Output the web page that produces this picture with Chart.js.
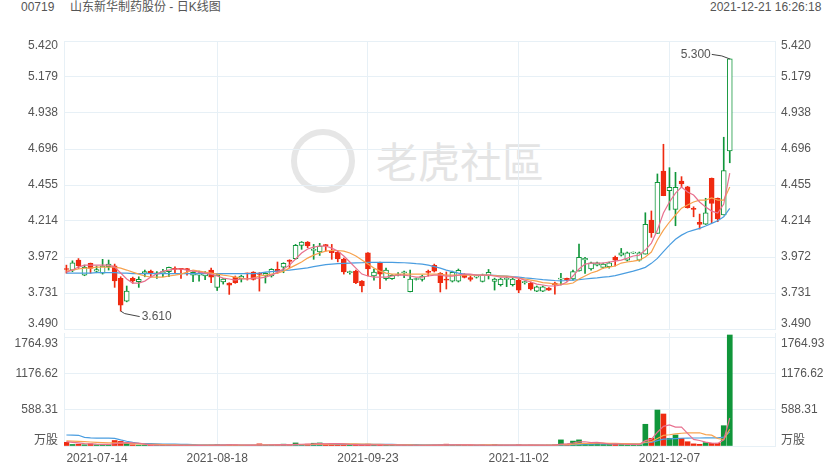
<!DOCTYPE html>
<html><head><meta charset="utf-8">
<script src="https://cdn.jsdelivr.net/npm/chart.js@4.4.1/dist/chart.umd.min.js"></script>
<style>
html,body{margin:0;padding:0;background:#fff;}
#wrap{position:relative;width:840px;height:470px;overflow:hidden;font-family:"Liberation Sans","Noto Sans CJK SC",Arial,sans-serif;}
.hdr{position:absolute;top:0;font-size:12px;color:#555;line-height:15px;white-space:nowrap;}
#wmlogo{position:absolute;left:291px;top:129px;width:52px;height:52px;border:6px solid #e6e6e6;border-radius:50%;}
#wmtext{position:absolute;left:376px;top:132px;font-size:42px;line-height:56px;color:#e4e4e4;font-family:"Noto Sans CJK SC",sans-serif;white-space:nowrap;}
.cv{position:absolute;left:0;}
</style></head><body>
<div id="wrap">
  <div class="hdr" style="left:21px">00719</div>
  <div class="hdr" style="left:70px">山东新华制药股份 - 日K线图</div>
  <div class="hdr" style="left:710px">2021-12-21 16:26:18</div>
  <div id="wmlogo"></div><div id="wmtext">老虎社區</div>
  <canvas id="pc" class="cv" style="top:0" width="840" height="350"></canvas>
  <canvas id="vc" class="cv" style="top:310px" width="840" height="160"></canvas>
</div>
<script>
// ---------- data ----------
const xTickIdx = [0, 25, 50, 75, 100];
const xTickLabels = ['2021-07-14', '2021-08-18', '2021-09-23', '2021-11-02', '2021-12-07'];
const priceTicks = [3.490, 3.731, 3.972, 4.214, 4.455, 4.696, 4.938, 5.179, 5.420];
const volTicks = [0, 588.31, 1176.62, 1764.93];
const volTickLabels = ['万股', '588.31', '1176.62', '1764.93'];

const open = [3.892,3.885,3.952,3.851,3.930,3.878,3.864,3.907,3.914,3.829,
3.677,3.829,3.808,3.863,3.878,3.858,3.863,3.874,3.893,3.893,
3.892,3.851,3.851,3.845,3.885,3.769,3.805,3.798,3.838,3.825,
3.863,3.872,3.865,3.845,3.845,3.890,3.905,3.952,3.961,4.050,
4.073,4.017,4.006,4.051,4.012,4.006,3.959,3.868,3.878,3.811,
4.001,3.845,3.932,3.828,3.827,3.850,3.867,3.741,3.822,3.823,
3.874,3.916,3.863,3.820,3.810,3.811,3.856,3.834,3.838,3.809,
3.847,3.809,3.787,3.823,3.787,3.816,3.801,3.798,3.743,3.743,
3.765,3.798,3.824,3.829,3.825,3.880,3.953,3.892,3.918,3.903,
3.907,3.970,3.985,3.952,3.999,3.952,3.992,4.220,4.131,4.549,
4.417,4.292,4.482,4.443,4.296,4.205,4.193,4.500,4.366,4.254,
4.683];
const close = [3.889,3.934,3.914,3.903,3.896,3.888,3.912,3.925,3.813,3.650,
3.744,3.813,3.823,3.874,3.863,3.867,3.874,3.903,3.890,3.890,
3.888,3.869,3.861,3.863,3.838,3.851,3.825,3.784,3.800,3.845,
3.860,3.823,3.855,3.863,3.890,3.878,3.930,3.943,4.050,4.073,
4.046,4.021,4.046,4.049,4.001,3.959,3.872,3.872,3.800,3.778,
3.892,3.872,3.858,3.885,3.850,3.854,3.871,3.825,3.826,3.845,
3.870,3.878,3.800,3.817,3.870,3.883,3.835,3.823,3.842,3.851,
3.869,3.825,3.825,3.826,3.825,3.751,3.804,3.758,3.772,3.772,
3.751,3.785,3.827,3.818,3.874,3.970,3.963,3.934,3.934,3.925,
3.934,3.952,4.001,4.001,4.002,4.001,4.191,4.135,4.473,4.383,
4.439,4.439,4.462,4.303,4.292,4.191,4.269,4.332,4.227,4.551,
5.300];
const high = [3.918,3.947,3.962,3.918,3.932,3.912,3.957,3.952,3.925,3.840,
3.778,3.838,3.840,3.885,3.885,3.874,3.890,3.905,3.907,3.896,
3.896,3.874,3.878,3.875,3.898,3.858,3.829,3.800,3.845,3.851,
3.865,3.874,3.868,3.868,3.894,3.939,3.934,3.954,4.057,4.076,
4.076,4.057,4.064,4.057,4.057,4.012,3.965,3.878,3.885,3.815,
4.002,3.892,3.939,3.898,3.855,3.868,3.878,3.885,3.831,3.851,
3.885,3.925,3.868,3.872,3.878,3.892,3.861,3.845,3.851,3.858,
3.889,3.831,3.831,3.840,3.831,3.825,3.811,3.805,3.778,3.778,
3.767,3.805,3.863,3.831,3.885,4.059,3.970,3.939,3.939,3.932,
3.939,3.979,4.030,4.006,4.006,4.006,4.269,4.281,4.529,4.728,
4.571,4.540,4.511,4.446,4.309,4.260,4.366,4.502,4.368,4.775,
5.300];
const low = [3.864,3.874,3.896,3.847,3.864,3.867,3.858,3.885,3.769,3.610,
3.672,3.796,3.769,3.840,3.840,3.829,3.840,3.840,3.867,3.829,
3.851,3.807,3.811,3.820,3.801,3.748,3.791,3.722,3.796,3.805,
3.818,3.818,3.744,3.798,3.838,3.863,3.867,3.900,3.957,4.024,
4.035,3.957,3.983,4.012,3.957,3.940,3.858,3.858,3.794,3.738,
3.845,3.818,3.761,3.818,3.822,3.845,3.834,3.738,3.818,3.811,
3.845,3.872,3.738,3.758,3.805,3.805,3.832,3.811,3.831,3.805,
3.825,3.751,3.778,3.774,3.778,3.733,3.791,3.751,3.740,3.740,
3.748,3.724,3.785,3.811,3.818,3.878,3.863,3.885,3.912,3.898,
3.898,3.912,3.979,3.945,3.996,3.945,3.992,4.104,4.131,4.383,
4.287,4.182,4.439,4.300,4.242,4.160,4.190,4.202,4.209,4.254,
4.604];
const ma5 = [3.871,3.885,3.905,3.918,3.918,3.918,3.918,3.918,3.905,3.865,
3.825,3.798,3.798,3.811,3.838,3.858,3.878,3.885,3.892,3.892,
3.885,3.878,3.871,3.865,3.858,3.845,3.831,3.825,3.818,3.825,
3.825,3.831,3.831,3.838,3.851,3.871,3.892,3.918,3.959,3.999,
4.026,4.039,4.046,4.046,4.032,4.012,3.979,3.939,3.898,3.858,
3.845,3.838,3.838,3.838,3.845,3.851,3.851,3.845,3.838,3.838,
3.845,3.851,3.851,3.845,3.845,3.851,3.858,3.858,3.851,3.851,
3.851,3.845,3.838,3.838,3.838,3.831,3.818,3.805,3.791,3.785,
3.778,3.778,3.785,3.805,3.845,3.892,3.925,3.932,3.932,3.932,
3.939,3.945,3.952,3.965,3.979,3.985,4.019,4.066,4.153,4.267,
4.341,4.401,4.441,4.408,4.388,4.341,4.307,4.280,4.267,4.327,
4.535];
const ma10 = [3.878,3.885,3.892,3.898,3.898,3.905,3.905,3.905,3.905,3.898,
3.885,3.871,3.858,3.845,3.838,3.838,3.838,3.845,3.851,3.858,
3.871,3.885,3.878,3.871,3.865,3.858,3.851,3.845,3.838,3.831,
3.825,3.831,3.845,3.851,3.858,3.865,3.878,3.898,3.918,3.939,
3.965,3.985,3.999,4.012,4.016,4.016,4.012,3.999,3.979,3.952,
3.925,3.898,3.878,3.865,3.858,3.858,3.858,3.858,3.858,3.858,
3.858,3.858,3.858,3.851,3.851,3.851,3.851,3.851,3.851,3.851,
3.851,3.848,3.845,3.845,3.838,3.831,3.825,3.818,3.811,3.801,
3.798,3.791,3.791,3.791,3.798,3.825,3.845,3.865,3.878,3.898,
3.905,3.912,3.932,3.939,3.945,3.952,3.972,4.006,4.086,4.153,
4.207,4.254,4.300,4.321,4.341,4.354,4.354,4.368,4.354,4.354,
4.441];
const ma20 = [3.865,3.865,3.865,3.865,3.865,3.868,3.868,3.868,3.868,3.865,
3.865,3.861,3.861,3.861,3.861,3.861,3.861,3.861,3.861,3.861,
3.861,3.861,3.861,3.861,3.861,3.861,3.861,3.861,3.861,3.861,
3.861,3.861,3.865,3.871,3.875,3.878,3.882,3.885,3.890,3.895,
3.900,3.908,3.915,3.922,3.925,3.928,3.930,3.932,3.933,3.934,
3.936,3.936,3.936,3.936,3.936,3.935,3.934,3.932,3.928,3.925,
3.918,3.908,3.898,3.885,3.875,3.865,3.858,3.855,3.851,3.851,
3.851,3.849,3.847,3.845,3.841,3.838,3.833,3.829,3.825,3.821,
3.818,3.815,3.813,3.815,3.818,3.821,3.825,3.829,3.833,3.838,
3.841,3.848,3.858,3.868,3.878,3.890,3.903,3.930,3.963,4.008,
4.052,4.091,4.119,4.140,4.153,4.164,4.180,4.198,4.215,4.242,
4.298];
const volume = [60,25,30,20,35,20,25,20,90,75,
40,20,15,15,12,10,12,15,10,12,
10,15,10,12,15,25,12,20,15,10,
10,12,35,12,15,20,30,20,50,25,
30,45,50,30,35,30,25,12,20,15,
30,12,25,12,10,10,10,20,8,10,
12,15,20,30,15,20,12,12,10,15,
12,25,12,10,12,20,10,15,12,10,
15,20,100,30,80,100,35,30,45,25,
30,40,25,20,15,20,355,126,588,523,
126,180,126,70,35,28,55,45,45,332,
1814];
const volMa5 = [70,60,50,40,35,30,28,25,38,50,
55,50,48,32,15,13,12,12,12,12,
12,12,11,12,12,15,15,17,17,16,
13,13,16,16,17,19,22,19,27,29,
31,34,40,36,38,38,34,26,24,20,
20,18,20,19,18,14,13,12,12,12,
12,13,15,19,18,20,19,18,14,14,
12,15,15,15,14,16,13,13,14,13,
12,14,30,35,49,66,69,55,58,47,
33,35,33,28,26,24,87,107,225,322,
344,309,309,205,107,90,63,47,42,101,
458];
const volMa10 = [85,80,75,70,65,60,55,50,50,48,
45,40,35,30,28,25,22,20,17,15,
14,14,13,13,13,14,14,15,15,15,
15,15,17,17,17,18,18,18,21,22,
24,26,29,28,31,33,34,34,34,33,
31,28,27,24,22,20,18,17,16,15,
14,14,15,16,16,17,17,17,16,17,
17,17,16,16,16,16,15,15,15,15,
15,15,22,24,30,39,41,43,46,46,
42,42,40,39,36,35,61,70,124,174,
184,198,208,213,215,216,186,178,123,104,
273];
const volMa20 = [180,178,175,140,132,130,130,128,125,100,
78,60,45,40,38,35,33,32,30,28,
26,22,20,19,18,18,17,17,16,16,
15,15,16,16,16,17,18,18,20,20,
21,22,24,25,26,27,27,27,27,27,
28,27,27,26,25,24,23,22,21,20,
19,18,17,17,17,17,16,16,16,16,
16,16,16,15,15,15,15,15,15,15,
15,15,20,20,24,28,30,31,33,34,
35,36,37,37,37,37,54,59,87,111,
115,122,127,130,131,131,133,133,133,146,
230];

// ---------- styling ----------
const RED = '#ef2a10', GREEN = '#10963a';
const C5 = '#e8718f', C10 = '#f7a24e', C20 = '#4a9de0';
const GRID = '#e7f0f6', TXT = '#555';
const FAM = '"Liberation Sans", "Noto Sans CJK SC", Arial, sans-serif';
const X_MIN = -0.4, X_MAX = 117.5;
Chart.defaults.font.family = FAM;
Chart.defaults.font.size = 12;

const idx = close.map((_, i) => i);
const up = idx.map(i => close[i] >= open[i]);
const noLine = ctx => (ctx.tick && ctx.tick.value === 0) ? 'rgba(0,0,0,0)' : GRID;

function yAxis(pos, ticksArr, labelsFn, width, grid, lh, min, max) {
  return {
    type: 'linear', position: pos, min: min, max: max,
    afterBuildTicks: s => { s.ticks = ticksArr.map(v => ({ value: v })); },
    afterFit: s => { s.width = width; },
    grid: { display: grid, color: GRID, drawTicks: false, offset: false },
    border: { display: true, color: GRID },
    ticks: {
      padding: 6, color: TXT, font: { size: 12, lineHeight: lh },
      callback: (v, i, arr) => {
        const t = labelsFn(i);
        if (i === arr.length - 1) return ['', t];
        if (i === 0) return [t, ''];
        return t;
      }
    }
  };
}

function xAxis(tickVals, showLabels, height) {
  return {
    type: 'linear', min: X_MIN, max: X_MAX, offset: false,
    afterBuildTicks: s => { s.ticks = tickVals.map(v => ({ value: v })); },
    afterFit: s => { s.height = height; },
    grid: { color: noLine, drawTicks: false, offset: false }, border: { display: false },
    ticks: {
      display: showLabels, align: 'inner', autoSkip: false, maxRotation: 0, padding: 5, color: TXT,
      callback: (v, i) => i < xTickLabels.length ? xTickLabels[i] : ''
    }
  };
}

const hiLo = {
  id: 'hilo',
  afterDatasetsDraw(chart) {
    const { ctx, scales: { x, y } } = chart;
    let hi = 0, lo = 0;
    high.forEach((v, i) => { if (v > high[hi]) hi = i; });
    low.forEach((v, i) => { if (v < low[lo]) lo = i; });
    ctx.save();
    ctx.strokeStyle = '#444'; ctx.fillStyle = TXT; ctx.lineWidth = 1;
    ctx.font = '12px ' + FAM; ctx.textBaseline = 'middle';
    const hx = x.getPixelForValue(hi), hy = y.getPixelForValue(high[hi]);
    ctx.beginPath(); ctx.moveTo(hx, hy); ctx.lineTo(hx - 8, hy - 3); ctx.lineTo(hx - 18, hy - 4.5); ctx.stroke();
    ctx.textAlign = 'right'; ctx.fillText(high[hi].toFixed(3), hx - 19, hy - 4.5);
    const lx = x.getPixelForValue(lo), ly = y.getPixelForValue(low[lo]);
    ctx.beginPath(); ctx.moveTo(lx, ly); ctx.lineTo(lx + 4, ly + 2.5); ctx.lineTo(lx + 19, ly + 5.5); ctx.stroke();
    ctx.textAlign = 'left'; ctx.fillText(low[lo].toFixed(3), lx + 21, ly + 5.5);
    ctx.restore();
  }
};

const line = (data, color) => ({
  type: 'line', data: idx.map(i => ({ x: i, y: data[i] })), borderColor: color,
  borderWidth: 1.2, pointRadius: 0, fill: false, order: 0
});

const pFmt = i => priceTicks[i].toFixed(3);

new Chart(document.getElementById('pc'), {
  type: 'bar',
  data: {
    datasets: [
      line(ma5, C5), line(ma10, C10), line(ma20, C20),
      {
        type: 'bar', data: idx.map(i => ({ x: i, y: [open[i], close[i]] })),
        backgroundColor: idx.map(i => up[i] ? '#ffffff' : RED),
        borderColor: idx.map(i => up[i] ? GREEN : RED),
        borderWidth: 1, borderSkipped: false, barThickness: 5, grouped: false, minBarLength: 1, order: 1
      },
      {
        type: 'bar', data: idx.map(i => ({ x: i, y: [low[i], high[i]] })),
        backgroundColor: idx.map(i => up[i] ? GREEN : RED),
        barThickness: 1, grouped: false, minBarLength: 1, order: 2
      }
    ]
  },
  options: {
    responsive: false, animation: false, events: [], devicePixelRatio: 1,
    layout: { padding: { top: 41, bottom: 21, left: 0, right: 0 } },
    plugins: { legend: { display: false }, tooltip: { enabled: false } },
    scales: {
      x: xAxis(xTickIdx, false, 0),
      y: yAxis('left', priceTicks, pFmt, 64, true, 10 / 12, 3.490, 5.420),
      y2: yAxis('right', priceTicks, pFmt, 65, false, 10 / 12, 3.490, 5.420)
    }
  },
  plugins: [hiLo]
});

const VMAX = 1846.6;
new Chart(document.getElementById('vc'), {
  type: 'bar',
  data: {
    datasets: [
      line(volMa5, C5), line(volMa10, C10), line(volMa20, C20),
      {
        type: 'bar', data: idx.map(i => ({ x: i, y: volume[i] })),
        backgroundColor: idx.map(i => up[i] ? GREEN : RED),
        barThickness: 5, grouped: false, order: 1
      }
    ]
  },
  options: {
    responsive: false, animation: false, events: [], devicePixelRatio: 1,
    layout: { padding: { top: 23, bottom: 0, left: 0, right: 0 } },
    plugins: { legend: { display: false }, tooltip: { enabled: false } },
    scales: {
      x: xAxis(xTickIdx.concat([X_MAX]), true, 24),
      y: yAxis('left', volTicks, i => volTickLabels[i], 64, true, 11 / 12, 0, VMAX),
      y2: yAxis('right', volTicks, i => volTickLabels[i], 65, false, 11 / 12, 0, VMAX)
    }
  }
});
</script>
</body></html>
